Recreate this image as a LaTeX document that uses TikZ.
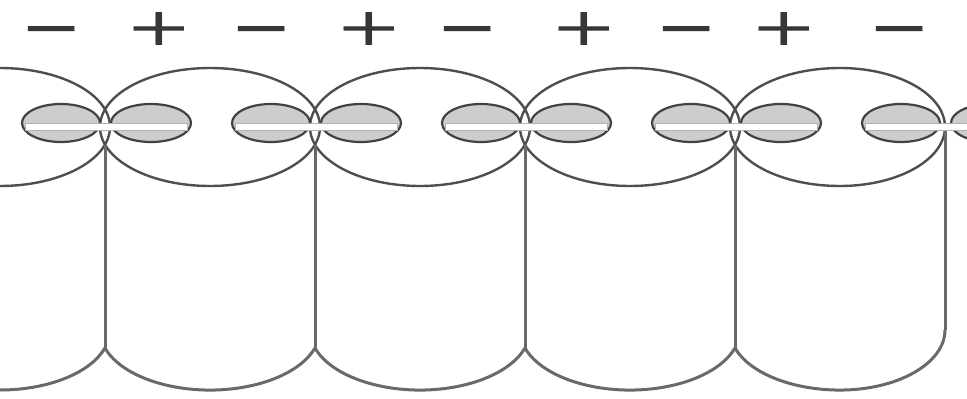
\documentclass[tikz,border=0pt]{standalone}
\usepackage{fontspec}
\newfontfamily\signfont{DejaVu Sans}
\definecolor{ink}{RGB}{78,78,78}
\definecolor{wallc}{RGB}{105,105,105}
\definecolor{lobefill}{RGB}{205,205,205}
\begin{document}
\begin{tikzpicture}[x=1pt,y=-1pt,
  rim/.style={draw=ink, line width=2.4pt},
  wall/.style={draw=wallc, line width=3pt},
  lobe/.style={draw=ink!85!black, fill=lobefill, line width=2.2pt},
  bar/.style={fill=white, draw=gray!60, line width=0.6pt},
  sign/.style={text=ink!70!black, inner sep=0pt, font=\signfont\fontsize{62}{62}\selectfont}]
\useasboundingbox (0,0) rectangle (967,399);
\clip (0,0) rectangle (967,399);

% top rims of the cells
\foreach \c in {0,210,420,630}
  \draw[rim] (\c,127) ellipse[x radius=110, y radius=59];
\draw[rim] (840,68) arc[start angle=270, end angle=90, x radius=110, y radius=59];
\draw[rim] (840,68) arc[start angle=-90, end angle=90, x radius=105, y radius=59];

% side walls
\foreach \w in {105,315,525,735}
  \draw[wall] (\w,145) -- (\w,348);
\draw[wall] (945,127) -- (945,330);

% rounded bottoms
\draw[wall] (0,390) arc[start angle=90, end angle=17.4, x radius=110, y radius=60];
\foreach \c in {210,420,630}
  \draw[wall] (\c-105,348) arc[start angle=162.6, end angle=17.4, x radius=110, y radius=60];
\draw[wall] (735,348) arc[start angle=162.6, end angle=90, x radius=110, y radius=60]
                      arc[start angle=90, end angle=0, x radius=105, y radius=60];

% electrode pairs with the separator strip
\foreach \w in {105,315,525,735,945} {
  \draw[lobe] (\w-44,123) ellipse[x radius=39, y radius=19];
  \draw[lobe] (\w+46,123) ellipse[x radius=40, y radius=19];
  \draw[bar] (\w-80,123.5) rectangle (\w+82,130.5);
}

% polarity marks
\foreach \x [count=\i] in {52,262,468,687,900}
  \node[sign] (minus\i) at (\x,37) {\scalebox{1.2}[1]{−}};
\foreach \x [count=\i] in {159,369,584,784}
  \node[sign] (plus\i) at (\x,29) {\scalebox{1.3}[0.85]{+}};
\end{tikzpicture}
\end{document}
